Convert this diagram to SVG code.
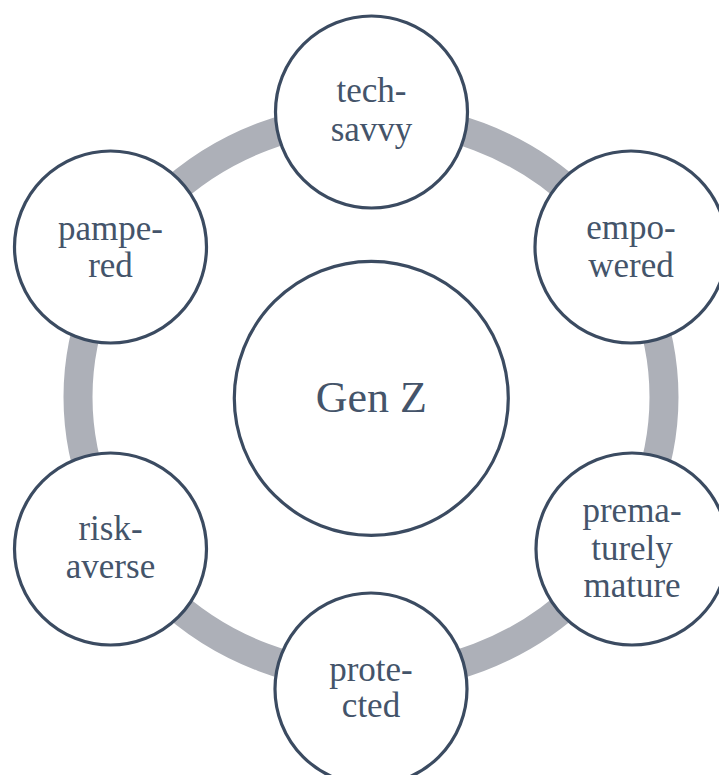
<svg xmlns="http://www.w3.org/2000/svg" width="719" height="775" viewBox="0 0 719 775">
<style>
.node{fill:#ffffff;stroke:#3b4b61;stroke-width:3.2}
.lbl{font-family:"Liberation Serif","Times New Roman",serif;font-size:35px;fill:#44546a;text-anchor:middle}
.big{font-size:44px}
.ring{fill:none;stroke:#adb0b8;stroke-width:29}
</style>
<rect width="719" height="775" fill="#ffffff"/>
<g id="connectors">
<ellipse class="ring" cx="371" cy="397" rx="293" ry="280"/>
</g>
<g id="center">
<circle class="node" cx="371.3" cy="398.3" r="137"/>
<text class="lbl big" x="371.3" y="411.5">Gen Z</text>
</g>
<g id="tech-savvy">
<circle class="node" cx="371.5" cy="112" r="96"/>
<text class="lbl" x="371.5" y="102">tech-</text>
<text class="lbl" x="371.5" y="141">savvy</text>
</g>
<g id="empowered">
<circle class="node" cx="631" cy="247" r="96"/>
<text class="lbl" x="631" y="239">empo-</text>
<text class="lbl" x="631" y="277">wered</text>
</g>
<g id="prematurely-mature">
<circle class="node" cx="632" cy="549" r="96"/>
<text class="lbl" x="632" y="522">prema-</text>
<text class="lbl" x="632" y="560">turely</text>
<text class="lbl" x="632" y="597">mature</text>
</g>
<g id="protected">
<circle class="node" cx="371" cy="689" r="96"/>
<text class="lbl" x="371" y="681">prote-</text>
<text class="lbl" x="371" y="717">cted</text>
</g>
<g id="risk-averse">
<circle class="node" cx="110.5" cy="549" r="96"/>
<text class="lbl" x="110.5" y="540">risk-</text>
<text class="lbl" x="110.5" y="578">averse</text>
</g>
<g id="pampered">
<circle class="node" cx="110.5" cy="247" r="96"/>
<text class="lbl" x="110.5" y="240">pampe-</text>
<text class="lbl" x="110.5" y="277">red</text>
</g>
</svg>
